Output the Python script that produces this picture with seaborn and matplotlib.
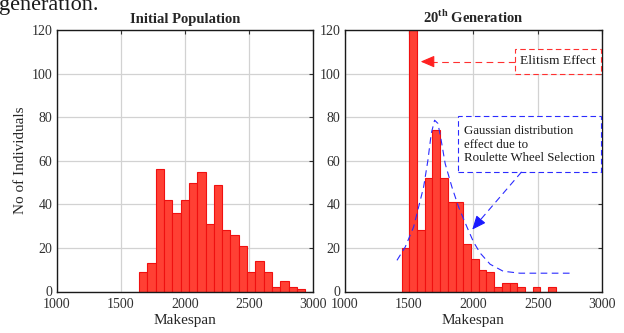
import numpy as np
import pandas as pd
import matplotlib
matplotlib.use("Agg")
import matplotlib.pyplot as plt
import seaborn as sns
from matplotlib.patches import Rectangle

# ---------------- data ----------------
init_counts = [9, 13, 56, 42, 36, 42, 50, 55, 31, 49, 28, 26, 21, 9, 14, 9, 2, 5, 2, 1]
init_first_edge = 1642
init_last_edge = 2937

gen20_counts = [20, 120, 28, 52, 74, 52, 41, 41, 22, 15, 10, 9, 2, 4, 4, 2, 0, 2, 0, 2]
gen20_first_edge = 1443
gen20_last_edge = 2640

# hand-drawn "gaussian" guide curve
curve_x = [1407, 1471, 1536, 1575, 1614, 1647, 1673, 1699, 1725, 1750, 1781,
           1833, 1885, 1950, 2001, 2053, 2130, 2231, 2360, 2774]
curve_y = [14.3, 20.4, 29.6, 38.8, 48.0, 60.2, 72.5, 78.6, 77.1, 69.4, 58.7,
           48.0, 38.8, 29.6, 22.7, 17.6, 12.5, 9.3, 8.4, 8.4]

x_ticks = [1000, 1500, 2000, 2500, 3000]
y_ticks = [0, 20, 40, 60, 80, 100, 120]

# ---------------- style ----------------
sns.set_theme(style="white")
plt.rcParams["font.family"] = ["Liberation Serif", "DejaVu Serif"]
plt.rcParams["mathtext.fontset"] = "custom"
plt.rcParams["mathtext.rm"] = "Liberation Serif"
plt.rcParams["mathtext.bf"] = "Liberation Serif:bold"

FACE = "#ff4034"
EDGE = "#f01010"

fig = plt.figure(figsize=(6.24, 3.33), dpi=100)
ax1 = fig.add_axes([56.65 / 624, 41.5 / 333, (313.3 - 56.65) / 624, 261.5 / 333])
ax2 = fig.add_axes([344.5 / 624, 41.5 / 333, (602.3 - 344.5) / 624, 261.5 / 333])


def draw_hist(ax, counts, first, last):
    n = len(counts)
    width = (last - first) / n
    centers = first + width * (np.arange(n) + 0.5)
    df = pd.DataFrame({"x": centers, "w": np.asarray(counts, dtype=float)})
    sns.histplot(data=df, x="x", weights="w", bins=n, binrange=(first, last),
                 ax=ax, color=FACE, edgecolor=EDGE, linewidth=0.8, alpha=1.0,
                 zorder=2)


draw_hist(ax1, init_counts, init_first_edge, init_last_edge)
draw_hist(ax2, gen20_counts, gen20_first_edge, gen20_last_edge)

for ax in (ax1, ax2):
    ax.set_xlim(1000, 3000)
    ax.set_ylim(0, 120)
    ax.set_xticks(x_ticks)
    ax.set_yticks(y_ticks)
    ax.set_axisbelow(True)
    ax.grid(True, color="#d2d2d2", linewidth=0.9)
    ax.tick_params(direction="in", length=3, width=0.8, top=True, right=True,
                   labelsize=10, pad=3, colors="#303030")
    ax.tick_params(axis="x", pad=5)
    for s in ax.spines.values():
        s.set_color("#1a1a1a")
        s.set_linewidth(1.0)
    ax.set_xlabel("Makespan", fontsize=11, color="#262626", labelpad=2)
    ax.set_ylabel("")

ax1.set_ylabel("No of Individuals", fontsize=11, color="#262626", labelpad=3)
ax1.set_title("Initial Population", fontsize=10.5, fontweight="bold", pad=5)
ax2.set_title("20$^{\\mathbf{th}}$ Generation", fontsize=10.5, fontweight="bold", pad=5)

# ---------------- annotations (right panel) ----------------
ax2.plot(curve_x, curve_y, color="#2b2bff", linewidth=0.8,
         linestyle=(0, (6, 4)), zorder=4)

# Elitism box + arrow
ax2.add_patch(Rectangle((2325, 100), 665, 11.3, facecolor="white",
                        edgecolor="#ff3030", linewidth=0.8,
                        linestyle=(0, (5, 3)), zorder=5))
ax2.text(2657, 105.6, "Elitism Effect", ha="center", va="center",
         fontsize=9.7, color="#1a1a1a", zorder=6)
ax2.plot([2325, 1640], [105.5, 105.5], color="#ff3030", linewidth=0.8,
         linestyle=(0, (6, 4)), zorder=5)
ax2.annotate("", xy=(1591, 105.5), xytext=(1660, 105.5),
             arrowprops=dict(arrowstyle="-|>,head_length=0.7,head_width=0.3",
                             color="#ff2020", linewidth=0.8,
                             shrinkA=0, shrinkB=0), zorder=6)

# Gaussian box + arrow
ax2.add_patch(Rectangle((1883, 55), 1110, 25.6, facecolor="white",
                        edgecolor="#2b2bff", linewidth=0.8,
                        linestyle=(0, (5, 3)), zorder=5, clip_on=False))
ax2.text(1929, 67.4, "Gaussian distribution\neffect due to\nRoulette Wheel Selection",
         ha="left", va="center", fontsize=9.3, color="#1a1a1a",
         linespacing=1.15, zorder=6)
ax2.plot([2374, 2030], [54.9, 31.2], color="#2b2bff", linewidth=0.8,
         linestyle=(0, (6, 4)), zorder=5)
ax2.annotate("", xy=(1991, 28.4), xytext=(2045, 32.2),
             arrowprops=dict(arrowstyle="-|>,head_length=0.7,head_width=0.3",
                             color="#1a1aff", linewidth=0.8,
                             shrinkA=0, shrinkB=0), zorder=6)

# cut-off text from surrounding document (cut at the top, as in the source)
fig.text(-0.002, 1 - 10 / 333, "generation.", fontsize=16, ha="left",
         va="baseline", color="#1a1a1a")

fig.savefig("out.png", dpi=100)
